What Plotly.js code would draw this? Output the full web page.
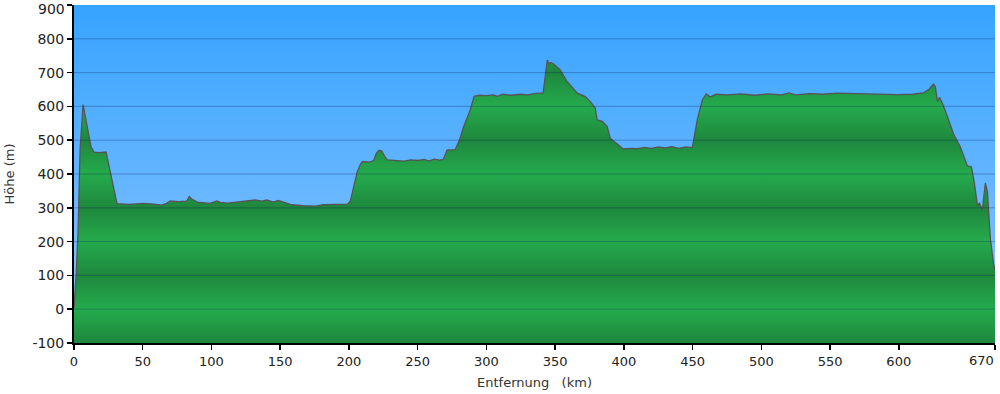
<!DOCTYPE html>
<html>
<head>
<meta charset="utf-8">
<script src="https://cdn.plot.ly/plotly-3.0.1.min.js"></script>
<style>html,body{margin:0;padding:0;background:#fff;}#chart{width:1000px;height:394px;}</style>
</head>
<body>
<div id="chart"></div>
<script>
// Distance along route (km)
const distKm = [0,1.5,2.9,4.4,6.6,7.5,8.7,10.9,12.4,14.6,18,23.3,27,31.3,40,50.5,58,63.8,67.4,69.9,76,82,83.9,85.6,89.8,99,103.9,106.3,112,118.4,125,131.7,137,140.2,145,148.7,152.3,158.4,166.9,175.4,181.4,190,196,199,201,204,206,208.5,210,215,218,220,222,224,226,228,235,240,245,250,255,258,262,266,268.6,271.5,277.3,280.9,283.1,288.2,291.1,295,300,305,308,312,318,325,330,335,341.3,344.3,345.5,346.4,348.6,353.7,358.8,366.1,371.9,375.5,379.2,380.6,384.3,387.9,390.1,397.4,399.6,405,410,415,420,425,430,435,440,445,449.8,453.4,457.1,460,462.9,467,475,485,495,505,515,520,525,535,545,555,565,575,586.6,599,610,617.9,621.5,625.2,626.6,628.1,629.6,631.7,635.4,639.7,644.8,649.9,652.8,655,657.2,658.7,660.8,663,664.5,666.7,668.9,670];
// Elevation (m)
const elevM = [5,100,225,470,605,585,560,521,480,465,463,465,390,312,310,313,311,308,313,320,318,320,333,326,317,313,320,316,314,317,318,323,320,323,317,322,317,309,306,305,309,310,311,311,320,370,405,430,437,435,440,462,470,468,452,442,440,438,442,440,443,438,444,441,443,471,472,506,536,589,630,633,632,634,630,636,633,636,634,638,640,737,725,730,727,708,673,639,629,614,595,560,556,540,506,481,474,476,475,479,476,480,477,481,476,480,478,560,619,637,628,636,634,637,633,637,634,640,634,638,636,639,638,637,637,635,636,640,649,666,658,614,627,609,570,520,480,424,421,373,308,314,293,373,348,205,137,116];
const xTicks = [0,50,100,150,200,250,300,350,400,450,500,550,600,670];
const xTickText = ['0','50','100','150','200','250','300','350','400','450','500','550','600','670'];
const yTicks = [-100,0,100,200,300,400,500,600,700,800,900];
const yTickText = ['-100','0','100','200','300','400','500','600','700','800','900'];

const xMin = xTicks[0], xMax = xTicks[xTicks.length-1];
const yMin = yTicks[0], yMax = yTicks[yTicks.length-1];

// green banded colorscale: dark at odd hundreds, light at even hundreds
const dark = '#1e873d', light = '#25ab4d';
const greenScale = yTicks.map((v,i)=>[i/(yTicks.length-1), (Math.round(v/100)%2!==0)? dark : light]);

const bg = {
  x:[xMin,xMax,xMax,xMin,xMin], y:[yMin,yMin,yMax,yMax,yMin],
  type:'scatter', mode:'lines', fill:'toself', line:{width:0},
  fillgradient:{type:'vertical', start:yMin, stop:yMax, colorscale:[[0,'#8ec6ff'],[1,'#36a3ff']]},
  hoverinfo:'skip', showlegend:false
};
const base = {
  x:[xMin,xMax], y:[yMin,yMin], type:'scatter', mode:'lines', line:{width:0},
  hoverinfo:'skip', showlegend:false
};
const profile = {
  x:distKm, y:elevM, type:'scatter', mode:'lines', fill:'tonexty',
  fillgradient:{type:'vertical', start:yMin, stop:yMax, colorscale:greenScale},
  line:{color:'#555555', width:1.3}, showlegend:false
};

const gridShapes = yTicks.slice(1,-1).map(v=>({
  type:'line', xref:'paper', x0:0, x1:1, yref:'y', y0:v, y1:v,
  line:{color:'rgba(10,30,90,0.3)', width:1}, layer:'above'
}));

const xFont = {family:'DejaVu Sans, Verdana, sans-serif', size:13, color:'#222'};
const yFont = {family:'DejaVu Sans, Verdana, sans-serif', size:14, color:'#222'};
const tFont = {family:'DejaVu Sans, Verdana, sans-serif', size:13, color:'#333'};

// edge labels placed as annotations so they stay inside the picture
const lastX = xTicks.length-1, lastY = yTicks.length-1;
const xTickShown = xTickText.map((t,i)=> i===lastX ? '' : t);
const yTickShown = yTickText.map((t,i)=> i===lastY ? '' : t);
const annotations = [
  {text:xTickText[lastX], x:xTicks[lastX], xref:'x', xanchor:'right', y:0, yref:'paper', yanchor:'top',
   yshift:-9, showarrow:false, font:xFont, borderpad:0},
  {text:yTickText[lastY], x:0, xref:'paper', xanchor:'right', xshift:-8, y:yTicks[lastY], yref:'y', yanchor:'top',
   yshift:5, showarrow:false, font:yFont, borderpad:0}
];

const layout = {
  width:1000, height:394,
  margin:{l:74, r:5, t:5, b:51},
  paper_bgcolor:'#ffffff', plot_bgcolor:'#8ec6ff',
  font:xFont,
  shapes:gridShapes,
  annotations:annotations,
  xaxis:{
    range:[xMin,xMax], tickvals:xTicks, ticktext:xTickShown,
    ticks:'outside', ticklen:5, tickwidth:1.5, tickcolor:'#000',
    showline:true, linecolor:'#000', linewidth:2, showgrid:false, zeroline:false,
    tickfont:xFont, layer:'above traces',
    title:{text:'Entfernung\u00a0\u00a0\u00a0(km)', font:tFont, standoff:10}
  },
  yaxis:{
    range:[yMin,yMax], tickvals:yTicks, ticktext:yTickShown,
    ticks:'outside', ticklen:5, tickwidth:1.5, tickcolor:'#000',
    showline:true, linecolor:'#000', linewidth:2, showgrid:false, zeroline:false,
    tickfont:yFont, layer:'above traces',
    title:{text:'Höhe (m)', font:tFont, standoff:15}
  }
};
Plotly.newPlot('chart',[bg,base,profile],layout,{displayModeBar:false,staticPlot:true});
</script>
</body>
</html>
